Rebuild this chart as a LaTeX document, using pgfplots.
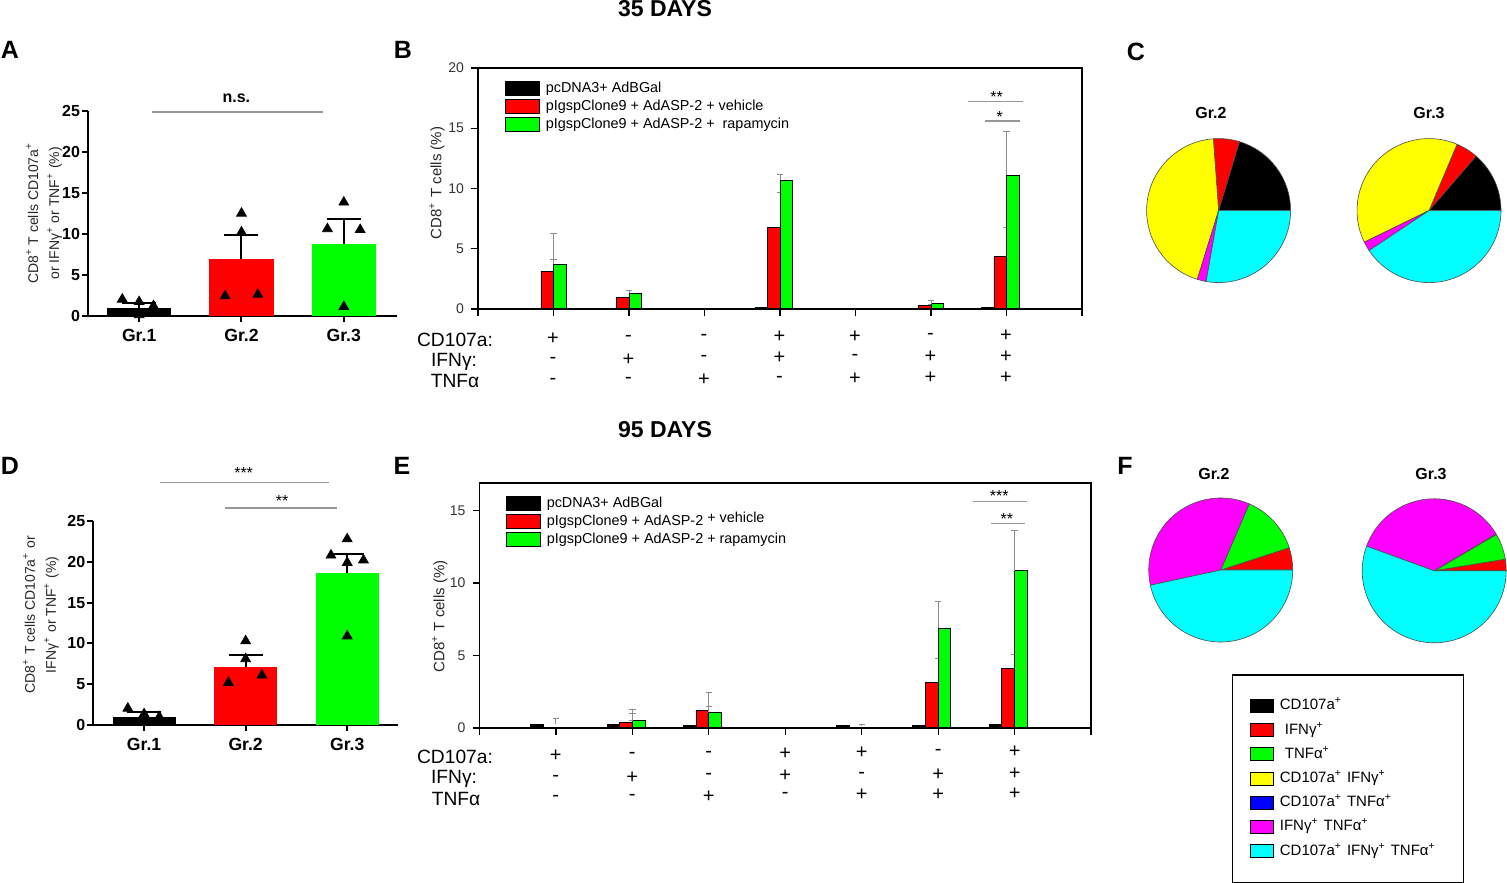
\documentclass[border=0pt]{standalone}
\usepackage{pgfplots}
\pgfplotsset{compat=1.18}
\usepackage{fontspec}
\setmainfont{Liberation Sans}
\definecolor{bred}{RGB}{255,0,0}
\definecolor{bgreen}{RGB}{0,255,0}
\definecolor{byellow}{RGB}{255,255,0}
\definecolor{bblue}{RGB}{0,0,255}
\definecolor{bmag}{RGB}{255,0,255}
\definecolor{bcyan}{RGB}{0,255,255}
\definecolor{sig}{RGB}{150,150,150}
\newcommand\sps{\textsuperscript{+}}
\newcommand\slice[3]{\filldraw[fill=#3, draw=black!70, line width=0.3pt] (axis cs:0,0) -- ++(#1:36pt) arc[start angle=#1, end angle=#2, radius=36pt] -- cycle;}
\pgfplotsset{
  grpaxis/.style={anchor=south west, scale only axis, clip=false,
    ymin=0, ymax=25,
    axis x line*=bottom, axis y line*=left, axis line style={line width=1pt, -},
    xtick={1,2,3}, xticklabels={Gr.1,Gr.2,Gr.3}, ytick={0,5,10,15,20,25},
    tick align=outside, major tick length=3pt, tick style={line width=1pt, black},
    xticklabel style={font=\fontsize{8.8}{10}\selectfont\bfseries},
    yticklabel style={font=\fontsize{8}{10}\selectfont\bfseries, xshift=2.5pt},
    /pgf/number format/assume math mode=true,
    ylabel style={anchor=center, align=center, font=\fontsize{7}{10.5}\selectfont, text=black!85}},
  grpbar/.style={ybar, bar shift=0, draw=none,
    error bars/y dir=plus, error bars/y explicit,
    error bars/error bar style={black, line width=1pt},
    error bars/error mark options={rotate=90, black, mark size=8.5pt, line width=1pt}},
  tri/.style={only marks, mark=triangle*, mark size=2.8pt, black},
  boxaxis/.style={anchor=south west, scale only axis, clip=false,
    xmin=0, xmax=8, ymin=0,
    axis line style={line width=0.65pt},
    xtick={0,...,8}, xticklabels={,,,,,,,,}, xtick pos=bottom, ytick pos=left,
    tick align=outside, major tick length=3.5pt, tick style={black, line width=0.6pt},
    yticklabel style={font=\fontsize{7}{8}\selectfont, text=black!80},
    /pgf/number format/assume math mode=true,
    ylabel={CD8\sps{} T cells (\%)},
    ylabel style={anchor=center, font=\fontsize{7.5}{8}\selectfont, text=black!85},
    legend cell align=left,
    legend style={anchor=north west, draw=none, fill=none, inner sep=0pt,
      font=\fontsize{7.2}{8}\selectfont,
      nodes={inner sep=0.7pt, text height=6pt, text depth=1.6pt},
      row sep=0pt, /tikz/every odd column/.append style={column sep=2.3pt}},
    legend image code/.code={\draw[#1, draw=black, line width=0.5pt] (0pt,-3.35pt) rectangle (16.7pt,3.35pt);}},
  barB/.style={ybar, bar width=0.166, draw=black, line width=0.4pt, forget plot,
    error bars/y dir=plus, error bars/y explicit,
    error bars/error bar style={black!45, line width=0.45pt},
    error bars/error mark options={rotate=90, black!45, mark size=1.6pt, line width=0.45pt}},
  pieaxis/.style={anchor=center, scale only axis, hide axis, width=72pt, height=72pt,
    xmin=-1, xmax=1, ymin=-1, ymax=1, clip=false}
}
\begin{document}
\begin{tikzpicture}
\useasboundingbox (0,0) rectangle (753.5pt,441pt);
% panel letters and titles
\begin{scope}[every node/.style={font=\fontsize{12.5}{14}\selectfont\bfseries}]
\node at (5pt,416pt) {A};
\node at (201.5pt,416pt) {B};
\node at (568pt,415pt) {C};
\node at (5pt,208pt) {D};
\node at (201pt,208pt) {E};
\node at (562.5pt,208pt) {F};
\end{scope}
\node[font=\fontsize{11.5}{13}\selectfont\bfseries] at (332.5pt,436.5pt) {35 DAYS};
\node[font=\fontsize{11.5}{13}\selectfont\bfseries] at (332.5pt,226pt) {95 DAYS};

% ---------------- A ----------------
\begin{axis}[grpaxis, at={(44pt,283.15pt)}, width=154.5pt, height=102.35pt, xmin=0.5, xmax=3.52,
  ylabel={CD8\sps{} T cells CD107a\sps\\or IFNγ\sps{} or TNF\sps{} (\%)},
  ylabel style={at={(axis description cs:-0.142,0.5)}}]
\addplot[grpbar, bar width=0.627, fill=black] coordinates {(1,1.0) +- (0,0.6)};
\addplot[grpbar, bar width=0.627, fill=bred] coordinates {(2,6.96) +- (0,2.94)};
\addplot[grpbar, bar width=0.627, fill=bgreen] coordinates {(3,8.75) +- (0,3.05)};
\addplot[tri] coordinates {(0.835,2.0) (1.0,1.7) (1.14,1.2) (1.0,0.1)
  (2.0,12.5) (2.0,10.2) (1.84,2.4) (2.16,2.6)
  (3.0,13.85) (2.84,10.6) (3.16,10.5) (3.0,1.1)};
\draw[sig, line width=0.7pt] (axis cs:1.13,24.9) -- (axis cs:2.8,24.9);
\node[font=\fontsize{8}{9}\selectfont\bfseries] at (axis cs:1.95,26.5) {n.s.};
\end{axis}

% ---------------- D ----------------
\begin{axis}[grpaxis, at={(46.65pt,78.5pt)}, width=152.35pt, height=102pt, xmin=0.5, xmax=3.5,
  ylabel={CD8\sps{} T cells CD107a\sps{} or\\IFNγ\sps{} or TNF\sps{} (\%)},
  ylabel style={at={(axis description cs:-0.172,0.54)}}]
\addplot[grpbar, bar width=0.62, fill=black] coordinates {(1,1.02) +- (0,0.58)};
\addplot[grpbar, bar width=0.62, fill=bred] coordinates {(2,7.15) +- (0,1.43)};
\addplot[grpbar, bar width=0.62, fill=bgreen] coordinates {(3,18.63) +- (0,2.37)};
\addplot[tri] coordinates {(0.84,2.04) (1.0,1.35) (1.15,1.0) (1.0,0.9)
  (2.0,10.3) (2.0,8.1) (1.83,5.2) (2.16,6.1)
  (3.0,22.8) (2.84,20.8) (3.0,19.9) (3.16,20.2) (3.0,10.9)};
\draw[sig, line width=0.7pt] (axis cs:1.16,29.7) -- (axis cs:2.82,29.7);
\draw[sig, line width=0.7pt] (axis cs:1.8,26.6) -- (axis cs:2.9,26.6);
\node[font=\fontsize{8}{9}\selectfont] at (axis cs:1.98,30.9) {***};
\node[font=\fontsize{8}{9}\selectfont] at (axis cs:2.36,27.4) {**};
\end{axis}

% ---------------- B ----------------
\begin{axis}[boxaxis, at={(239pt,286.5pt)}, width=302pt, height=120.5pt, ymax=20, ytick={0,5,10,15,20},
  ylabel style={at={(axis description cs:-0.068,0.523)}},
  legend style={at={(0.0447,0.954)}}]
\addlegendimage{fill=black}\addlegendentry{pcDNA3+ AdBGal}
\addlegendimage{fill=bred}\addlegendentry{pIgspClone9 + AdASP-2 + vehicle}
\addlegendimage{fill=bgreen}\addlegendentry{pIgspClone9 + AdASP-2 +\ \ rapamycin}
\addplot[barB, fill=black, bar shift=-0.249] coordinates {(1,0.05) +- (0,0.05) (4,0.1) +- (0,0.05) (7,0.12) +- (0,0.08)};
\addplot[barB, fill=bred, bar shift=-0.083] coordinates {(1,3.15) +- (0,0.95) (2,0.95) +- (0,0.55) (4,6.8) +- (0,2.9) (6,0.28) +- (0,0.12) (7,4.35) +- (0,2.45)};
\addplot[barB, fill=bgreen, bar shift=0.083] coordinates {(1,3.7) +- (0,2.6) (2,1.3) +- (0,0.25) (4,10.7) +- (0,0.5) (6,0.45) +- (0,0.25) (7,11.1) +- (0,3.6)};
\draw[line width=1.1pt] (axis cs:0,0) -- (axis cs:8,0);
\draw[sig, line width=0.6pt] (axis cs:6.49,17.2) -- (axis cs:7.22,17.2);
\draw[sig, line width=0.6pt] (axis cs:6.72,15.6) -- (axis cs:7.18,15.6);
\node[font=\fontsize{8}{9}\selectfont] at (axis cs:6.87,17.6) {**};
\node[font=\fontsize{8}{9}\selectfont] at (axis cs:6.91,15.9) {*};
\end{axis}

% ---------------- E ----------------
\begin{axis}[boxaxis, at={(239.75pt,77pt)}, width=305.75pt, height=122.5pt, ymax=16.9, ytick={0,5,10,15},
  ylabel style={at={(axis description cs:-0.065,0.455)}},
  legend style={at={(0.0433,0.955)}}]
\addlegendimage{fill=black}\addlegendentry{pcDNA3+ AdBGal}
\addlegendimage{fill=bred}\addlegendentry{pIgspClone9 + AdASP-2 \raisebox{1.5pt}{+ vehicle}}
\addlegendimage{fill=bgreen}\addlegendentry{pIgspClone9 + AdASP-2 + rapamycin}
\addplot[barB, fill=black, bar shift=-0.249] coordinates {(1,0.25) +- (0,0.4) (2,0.25) +- (0,0.3) (3,0.2) +- (0,0.15) (5,0.15) +- (0,0.1) (6,0.15) +- (0,0.25) (7,0.22) +- (0,0.05)};
\addplot[barB, fill=bred, bar shift=-0.083] coordinates {(2,0.4) +- (0,0.6) (3,1.2) +- (0,1.25) (6,3.15) +- (0,1.65) (7,4.1) +- (0,1.0)};
\addplot[barB, fill=bgreen, bar shift=0.083] coordinates {(2,0.5) +- (0,0.8) (3,1.1) +- (0,0.4) (6,6.9) +- (0,1.85) (7,10.85) +- (0,2.75)};
\draw[line width=1.1pt] (axis cs:0,0) -- (axis cs:8,0);
\draw[sig, line width=0.6pt] (axis cs:6.45,15.6) -- (axis cs:7.16,15.6);
\draw[sig, line width=0.6pt] (axis cs:6.69,14.1) -- (axis cs:7.14,14.1);
\node[font=\fontsize{8}{9}\selectfont] at (axis cs:6.8,16.0) {***};
\node[font=\fontsize{8}{9}\selectfont] at (axis cs:6.9,14.45) {**};
\end{axis}

% sign rows
\foreach \i/\a/\b/\c in {1/+/-/-,2/-/+/-,3/-/-/+,4/+/+/-,5/+/-/+,6/-/+/+,7/+/+/+}{
  \pgfmathsetmacro\xb{0.5*(553+75.5*(\i-1))}
  \pgfmathsetmacro\xe{0.5*(555.8+76.5*(\i-1))}
  \pgfmathsetmacro\ba{441-0.5*(339-0.6*(\i-1))}
  \pgfmathsetmacro\bb{441-0.5*(360-0.6*(\i-1))}
  \pgfmathsetmacro\bc{441-0.5*(381-0.6*(\i-1))}
  \pgfmathsetmacro\ea{441-0.5*(756-0.7*(\i-1))}
  \pgfmathsetmacro\eb{441-0.5*(778-0.7*(\i-1))}
  \pgfmathsetmacro\ec{441-0.5*(798-0.7*(\i-1))}
  \begin{scope}[every node/.style={font=\fontsize{10}{10}\selectfont, inner sep=0pt}]
  \node at (\xb pt,\ba pt) {\a};
  \node at (\xb pt,\bb pt) {\b};
  \node at (\xb pt,\bc pt) {\c};
  \node at (\xe pt,\ea pt) {\a};
  \node at (\xe pt,\eb pt) {\b};
  \node at (\xe pt,\ec pt) {\c};
  \end{scope}
}
\begin{scope}[every node/.style={font=\fontsize{9.6}{10}\selectfont, inner sep=0pt}]
\node at (227.5pt,271pt) {CD107a:};
\node at (227pt,260pt) {IFNγ:};
\node at (227.5pt,250.5pt) {TNFα};
\node at (227.5pt,62.5pt) {CD107a:};
\node at (227pt,51.5pt) {IFNγ:};
\node at (228pt,41.5pt) {TNFα};
\end{scope}

% ---------------- C pies ----------------
\node[font=\fontsize{8}{9}\selectfont\bfseries] at (605.5pt,384.5pt) {Gr.2};
\node[font=\fontsize{8}{9}\selectfont\bfseries] at (714.5pt,384.5pt) {Gr.3};
\begin{axis}[pieaxis, at={(609.3pt,335.7pt)}]
\slice{0}{73.2}{black}
\slice{73.2}{94.2}{bred}
\slice{94.2}{252.8}{byellow}
\slice{252.8}{260}{bmag}
\slice{260}{360}{bcyan}
\end{axis}
\begin{axis}[pieaxis, at={(714.5pt,335.7pt)}]
\slice{0}{49.2}{black}
\slice{49.2}{67.1}{bred}
\slice{67.1}{206}{byellow}
\slice{206}{213.7}{bmag}
\slice{213.7}{360}{bcyan}
\end{axis}

% ---------------- F pies ----------------
\node[font=\fontsize{8}{9}\selectfont\bfseries] at (607pt,203.8pt) {Gr.2};
\node[font=\fontsize{8}{9}\selectfont\bfseries] at (715.5pt,204pt) {Gr.3};
\begin{axis}[pieaxis, at={(610.35pt,156pt)}]
\slice{0}{18}{bred}
\slice{18}{66.7}{bgreen}
\slice{66.7}{192.2}{bmag}
\slice{192.2}{360}{bcyan}
\end{axis}
\begin{axis}[pieaxis, at={(717.1pt,155.6pt)},
  legend cell align=left,
  legend style={at={(-0.906,-0.219)}, anchor=north west, draw=black, line width=0.6pt, fill=white,
    inner xsep=9pt, inner ysep=11.5pt, font=\fontsize{7.5}{9}\selectfont,
    nodes={inner sep=0pt, text height=6pt, text depth=2pt, text width=83pt, align=left},
    row sep=4.1pt, /tikz/every odd column/.append style={column sep=2.85pt}},
  legend image code/.code={\draw[#1, draw=black, line width=0.4pt] (0pt,-3.25pt) rectangle (11.5pt,3.25pt);}]
\addlegendimage{fill=black}\addlegendentry{CD107a\sps}
\addlegendimage{fill=bred}\addlegendentry{\hspace{2.5pt}IFNγ\sps}
\addlegendimage{fill=bgreen}\addlegendentry{\hspace{2.5pt}TNFα\sps}
\addlegendimage{fill=byellow}\addlegendentry{CD107a\sps{} IFNγ\sps}
\addlegendimage{fill=bblue}\addlegendentry{CD107a\sps{} TNFα\sps}
\addlegendimage{fill=bmag}\addlegendentry{IFNγ\sps{} TNFα\sps}
\addlegendimage{fill=bcyan}\addlegendentry{CD107a\sps{} IFNγ\sps{} TNFα\sps}
\slice{0}{9.3}{bred}
\slice{9.3}{30.3}{bgreen}
\slice{30.3}{30.8}{byellow}
\slice{30.8}{160}{bmag}
\slice{160}{360}{bcyan}
\end{axis}
\end{tikzpicture}
\end{document}
